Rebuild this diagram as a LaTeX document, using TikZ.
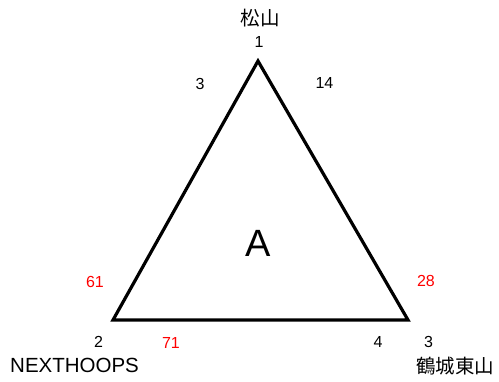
\documentclass[tikz,border=0pt]{standalone}
\usepackage{fontspec}
\setmainfont{Liberation Sans}
\newfontfamily\jafont{Noto Sans CJK JP}
\usepackage{tikz}
\usetikzlibrary{
  calc,%
  positioning
}
\tikzset{>=latex}
\tikzset{num/.style={inner sep=0pt, font=\fontsize{16}{16}\selectfont}}
\tikzset{rednum/.style={num, text=red}}
\tikzset{place/.style={inner sep=0pt, font=\jafont\fontsize{19.5}{20}\selectfont}}

\begin{document}
\begin{tikzpicture}[x=1pt, y=-1pt]
          \useasboundingbox (0,0) rectangle (499,381);
          % corners of the triangle
          \coordinate (v1) at (258,61);
          \coordinate (v2) at (113,320);
          \coordinate (v3) at (408,320);
          \draw[line width=3.2pt, line join=miter] (v1) -- (v2) -- (v3) -- cycle;
          \node[inner sep=0pt, font=\fontsize{38}{38}\selectfont] (area) at (258.5,243.5) {A};
          % vertex numbers and names
          \node[num] (n1) at (259,42) {1};
          \node[num] (n2) at (98.5,342) {2};
          \node[num] (n3) at (428.5,342) {3};
          \node[place] (name1) at (260,18) {松山};
          \node[inner sep=0pt, anchor=base west, font=\fontsize{20.5}{21}\selectfont] (name2) at (10,372) {NEXTHOOPS};
          \node[place, anchor=west] (name3) at (416,366) {鶴城東山};
          % side values
          \foreach \x/\y/\t in {200/84/3, 324.5/83/14, 378/342/4}
            \node[num] (s\t) at (\x,\y) {\t};
          \foreach \x/\y/\t in {95/282/61, 426/281/28, 171/343/71}
            \node[rednum] (r\t) at (\x,\y) {\t};
        \end{tikzpicture}
\end{document}
